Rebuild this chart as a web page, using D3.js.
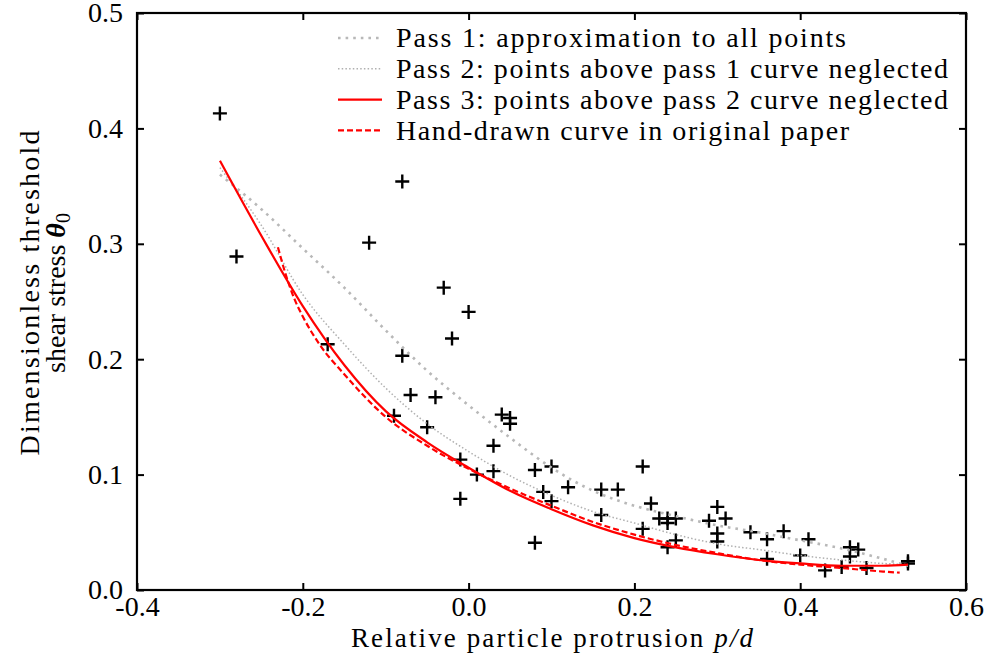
<!DOCTYPE html>
<html>
<head>
<meta charset="utf-8">
<script src="https://cdn.jsdelivr.net/npm/d3@7"></script>
<style>
  body { margin: 0; background: #fff; }
</style>
</head>
<body>
<div class="chart"></div>
<script>
// measured points (p/d, theta0)
const pointX = [-0.30, -0.28, -0.17, -0.12, -0.08, -0.08, -0.07, -0.09, -0.05, -0.04, -0.03, -0.02, 0.00, -0.01, -0.01,
  0.01, 0.03, 0.03, 0.04, 0.05, 0.05, 0.08, 0.08, 0.09, 0.10, 0.10, 0.12, 0.16, 0.16, 0.18, 0.21, 0.21, 0.22, 0.23,
  0.24, 0.24, 0.25, 0.24, 0.25, 0.29, 0.30, 0.31, 0.30, 0.30, 0.34, 0.36, 0.36, 0.38, 0.40, 0.41, 0.43, 0.45, 0.46,
  0.47, 0.46, 0.48, 0.53, 0.53];
const pointY = [0.413, 0.289, 0.213, 0.301, 0.354, 0.203, 0.169, 0.151, 0.141, 0.167, 0.262, 0.218, 0.241, 0.113, 0.079,
  0.100, 0.103, 0.125, 0.152, 0.149, 0.144, 0.104, 0.041, 0.085, 0.107, 0.077, 0.089, 0.087, 0.065, 0.087, 0.107, 0.053, 0.075, 0.062,
  0.062, 0.058, 0.062, 0.037, 0.043, 0.060, 0.072, 0.062, 0.049, 0.042, 0.050, 0.044, 0.027, 0.051, 0.030, 0.044, 0.017, 0.020, 0.037,
  0.035, 0.029, 0.019, 0.025, 0.023];

// fitted curves
const curveX = [-0.30, -0.25, -0.20, -0.15, -0.10, -0.05, 0.00, 0.05, 0.10, 0.15, 0.20, 0.25, 0.30, 0.35, 0.40, 0.45, 0.50, 0.53];
const pass1Y = [0.360, 0.330, 0.296, 0.262, 0.225, 0.190, 0.160, 0.132, 0.106, 0.086, 0.073, 0.064, 0.056, 0.050, 0.043, 0.036, 0.027, 0.021];
const pass2Y = [0.366, 0.316, 0.256, 0.213, 0.175, 0.144, 0.120, 0.099, 0.082, 0.068, 0.058, 0.048, 0.040, 0.035, 0.030, 0.026, 0.023, 0.022];
const pass3Y = [0.372, 0.307, 0.246, 0.195, 0.155, 0.128, 0.106, 0.086, 0.070, 0.056, 0.045, 0.037, 0.031, 0.026, 0.023, 0.021, 0.021, 0.022];

const handX = [-0.23, -0.22, -0.21, -0.20, -0.18, -0.15, -0.10, -0.05, 0.00, 0.05, 0.10, 0.15, 0.20, 0.25, 0.30, 0.35, 0.40, 0.45, 0.50, 0.52];
const handY = [0.297, 0.272, 0.252, 0.237, 0.213, 0.187, 0.150, 0.125, 0.105, 0.088, 0.073, 0.059, 0.048, 0.039, 0.032, 0.026, 0.022, 0.019, 0.016, 0.015];

const xTicks = [-0.4, -0.2, 0.0, 0.2, 0.4, 0.6];
const yTicks = [0.0, 0.1, 0.2, 0.3, 0.4, 0.5];

const legendLabels = [
  "Pass 1: approximation to all points",
  "Pass 2: points above pass 1 curve neglected",
  "Pass 3: points above pass 2 curve neglected",
  "Hand-drawn curve in original paper"
];

const W = 992, H = 659;
const margin = { top: 13, right: 26, bottom: 69, left: 137 };
const width = W - margin.left - margin.right,
    height = H - margin.top - margin.bottom;
const FONT = '"Liberation Serif"';

const svg = d3.select(".chart").append("svg")
    .attr("width", W)
    .attr("height", H);

const g = svg.append("g")
    .attr("transform", `translate(${margin.left}, ${margin.top})`);

const xScale = d3.scaleLinear().domain([-0.4, 0.6]).range([0, width]);
const yScale = d3.scaleLinear().domain([0, 0.5]).range([height, 0]);

// styles for the four curves
const styles = [
  { stroke: "#b8b8b8", width: 2.6, dash: "2.6,5" },
  { stroke: "#b0b0b0", width: 1.5, dash: "1.5,2.2" },
  { stroke: "#ff0000", width: 2.2, dash: null },
  { stroke: "#ff0000", width: 2.2, dash: "6,3" }
];

const line = d3.line()
    .x(d => xScale(d[0]))
    .y(d => yScale(d[1]))
    .curve(d3.curveMonotoneX);

const series = [
  curveX.map((v, i) => [v, pass1Y[i]]),
  curveX.map((v, i) => [v, pass2Y[i]]),
  curveX.map((v, i) => [v, pass3Y[i]]),
  handX.map((v, i) => [v, handY[i]])
];

// points first, curves on top
const pts = pointX.map((v, i) => [v, pointY[i]]);
const cross = 7;
g.selectAll(".pt")
    .data(pts)
    .enter()
    .append("path")
    .attr("class", "pt")
    .attr("d", d => {
      const cx = xScale(d[0]), cy = yScale(d[1]);
      return `M${cx - cross},${cy}H${cx + cross}M${cx},${cy - cross}V${cy + cross}`;
    })
    .attr("stroke", "#000")
    .attr("stroke-width", 2.4)
    .attr("fill", "none");

series.forEach((s, i) => {
  g.append("path")
      .datum(s)
      .attr("d", line)
      .attr("fill", "none")
      .attr("stroke", styles[i].stroke)
      .attr("stroke-width", styles[i].width)
      .attr("stroke-dasharray", styles[i].dash);
});

// axes, ticks pointing inward on all four sides
const tickLen = 7;
const fmt = d => d.toFixed(1);   // plain hyphen for negatives, like the original
g.append("g")
    .attr("transform", `translate(0, ${height})`)
    .call(d3.axisBottom(xScale).tickValues(xTicks).tickSize(-tickLen).tickPadding(6).tickFormat(fmt))
    .call(a => a.selectAll("text").attr("font-size", 28).attr("dy", "0.72em"));

g.append("g")
    .call(d3.axisLeft(yScale).tickValues(yTicks).tickSize(-tickLen).tickPadding(14).tickFormat(fmt))
    .call(a => a.selectAll("text").attr("font-size", 28).attr("dy", "0.32em"));

g.append("g")
    .call(d3.axisTop(xScale).tickValues(xTicks).tickSize(-tickLen).tickFormat(""));

g.append("g")
    .attr("transform", `translate(${width}, 0)`)
    .call(d3.axisRight(yScale).tickValues(yTicks).tickSize(-tickLen).tickFormat(""));

g.selectAll(".domain").remove();
g.selectAll(".tick line").attr("stroke", "#000").attr("stroke-width", 2);
g.selectAll("g").attr("font-family", null);

g.append("rect")
    .attr("width", width)
    .attr("height", height)
    .attr("fill", "none")
    .attr("stroke", "#000")
    .attr("stroke-width", 2.2);

// legend
const legend = svg.append("g").attr("transform", "translate(338, 38)");
const legendLen = [450, 552, 552, 453];
legendLabels.forEach((lab, i) => {
  const row = legend.append("g").attr("transform", `translate(0, ${i * 30.8})`);
  row.append("line")
      .attr("x1", 0).attr("x2", 44)
      .attr("stroke", styles[i].stroke)
      .attr("stroke-width", styles[i].width)
      .attr("stroke-dasharray", styles[i].dash);
  row.append("text")
      .attr("x", 58)
      .attr("dy", "0.33em")
      .attr("font-size", 28)
      .attr("textLength", legendLen[i])
      .text(lab);
});

// axis titles
const xt = svg.append("text")
    .attr("x", 552)
    .attr("y", 647)
    .attr("text-anchor", "middle")
    .attr("font-size", 27)
    .attr("textLength", 402);
xt.append("tspan").text("Relative particle protrusion ");
xt.append("tspan").attr("font-style", "italic").text("p/d");

svg.append("text")
    .attr("transform", "translate(39, 293) rotate(-90)")
    .attr("text-anchor", "middle")
    .attr("font-size", 28)
    .attr("textLength", 325)
    .text("Dimensionless threshold");

const yt2 = svg.append("text")
    .attr("transform", "translate(65, 293) rotate(-90)")
    .attr("text-anchor", "middle")
    .attr("font-size", 28);
yt2.append("tspan").text("shear stress ");
yt2.append("tspan").attr("font-style", "italic").attr("font-weight", "bold").text("θ");
yt2.append("tspan").attr("font-size", 20).attr("dy", 5).text("0");

svg.selectAll("text").style("font-family", FONT).style("fill", "#000");
</script>
</body>
</html>
